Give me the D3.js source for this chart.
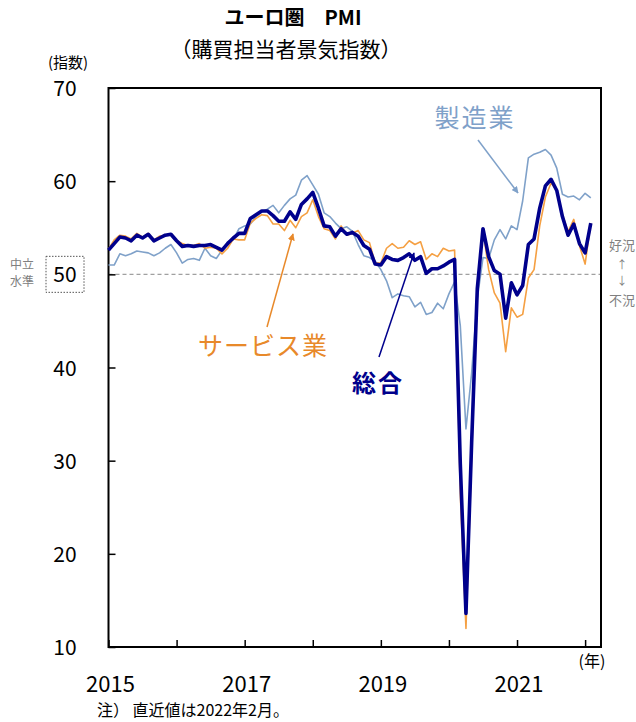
<!DOCTYPE html>
<html><head><meta charset="utf-8">
<script src="https://cdn.jsdelivr.net/npm/d3@7"></script>
<style>
html,body{margin:0;padding:0;background:#fff;}
svg{display:block;font-family:"Noto Sans CJK JP","Noto Sans",sans-serif;}
</style>
</head><body>
<svg id="c" width="636" height="722"></svg>
<script>
// Monthly data Jan 2015 - Feb 2022
const manufacturing = [
 51.0,51.0,52.2,52.0,52.2,52.5,52.4,52.3,52.0,52.3,52.8,53.2,
 52.3,51.2,51.6,51.7,51.5,52.8,52.0,51.7,52.6,53.5,53.7,54.9,
 55.2,55.4,56.2,56.7,57.0,57.4,56.6,57.4,58.1,58.5,60.1,60.6,
 59.6,58.6,56.6,56.2,55.5,54.9,55.1,54.6,53.2,52.0,51.8,51.4,
 50.5,49.3,47.5,47.9,47.7,47.6,46.5,47.0,45.7,45.9,46.9,46.3,
 47.9,49.2,44.5,33.4,39.4,47.4,51.8,51.7,53.7,54.8,53.8,55.2,
 54.8,57.9,62.5,62.9,63.1,63.4,62.8,61.4,58.6,58.3,58.4,58.0,
 58.7,58.2];
const services = [
 52.7,53.7,54.2,54.1,53.8,54.4,54.0,54.4,53.7,54.1,54.2,54.2,
 53.6,53.3,53.1,53.1,53.3,52.8,52.9,52.8,52.2,52.8,53.8,53.7,
 53.7,55.5,56.0,56.4,56.3,55.4,55.4,54.7,55.8,55.0,56.2,56.6,
 58.0,56.2,54.9,54.7,53.8,55.2,54.2,54.4,54.7,53.7,53.4,51.2,
 51.2,52.8,53.3,52.8,52.9,53.6,53.2,53.5,51.6,52.2,51.9,52.8,
 52.5,52.6,26.4,12.0,30.5,48.3,54.7,50.5,48.0,46.9,41.7,46.4,
 45.4,45.7,49.6,50.5,55.2,58.3,59.8,59.0,56.4,54.6,55.9,53.1,
 51.1,55.5];
const composite = [
 52.6,53.3,54.0,53.9,53.6,54.2,53.9,54.3,53.6,53.9,54.2,54.3,
 53.6,53.0,53.1,53.0,53.1,53.1,53.2,52.9,52.6,53.3,53.9,54.4,
 54.4,56.0,56.4,56.8,56.8,56.3,55.7,55.7,56.7,55.9,57.5,58.1,
 58.8,57.1,55.2,55.1,54.1,54.9,54.3,54.5,54.1,53.1,52.7,51.1,
 51.0,51.9,51.6,51.5,51.8,52.2,51.5,51.9,50.1,50.6,50.6,50.9,
 51.3,51.6,29.7,13.6,31.9,48.5,54.9,51.9,50.4,50.0,45.3,49.1,
 47.8,48.8,53.2,53.8,57.1,59.5,60.2,59.0,56.2,54.2,55.4,53.3,
 52.3,55.5];
const yTicks = [10,20,30,40,50,60,70];
const yearLabels = ["2015","2017","2019","2021"];
const yearTicks = [2015,2016,2017,2018,2019,2020,2021,2022];

const svg = d3.select("#c");
const L=108.5, R=601, T=88, B=647;
const x = d3.scaleLinear().domain([0,86.8]).range([L,R]);
const y = d3.scaleLinear().domain([10,70]).range([B,T]);
const mx = y0 => (y0-2015)*12;

// title
svg.append("text").attr("x",293).attr("y",25).attr("text-anchor","middle")
  .attr("font-size",20).attr("font-weight","bold").attr("fill","#000").text("ユーロ圏　PMI");
svg.append("text").attr("x",286).attr("y",57).attr("text-anchor","middle")
  .attr("font-size",21).attr("fill","#000").text("（購買担当者景気指数）");
svg.append("text").attr("x",68).attr("y",68).attr("text-anchor","middle")
  .attr("font-size",15).text("(指数)");

// 50 dashed line
svg.append("line").attr("x1",L).attr("x2",R).attr("y1",y(50)).attr("y2",y(50))
  .attr("stroke","#a0a0a0").attr("stroke-width",1.3).attr("stroke-dasharray","4,3");

// axes frame
svg.append("rect").attr("x",L).attr("y",T).attr("width",R-L).attr("height",B-T)
  .attr("fill","none").attr("stroke","#000").attr("stroke-width",2);

// y ticks (inward)
const yAxis = d3.axisRight(y).tickValues(yTicks).tickSize(7).tickFormat("");
svg.append("g").attr("transform",`translate(${L},0)`).call(yAxis)
  .call(g=>g.select(".domain").remove())
  .call(g=>g.selectAll("line").attr("stroke","#000").attr("stroke-width",1.5));
svg.selectAll(".ylab").data(yTicks).enter().append("text")
  .attr("x",65).attr("y",d=>y(d)+8).attr("text-anchor","middle")
  .attr("font-size",21).attr("fill","#000").text(d=>d);
// dotted box around 50
svg.append("rect").attr("x",46).attr("y",y(50)-18).attr("width",38).attr("height",36)
  .attr("fill","none").attr("stroke","#555").attr("stroke-width",1).attr("stroke-dasharray","1.5,1.5");
svg.append("text").attr("x",22).attr("y",y(50)-5).attr("text-anchor","middle")
  .attr("font-size",12).attr("fill","#808080").text("中立");
svg.append("text").attr("x",22).attr("y",y(50)+12).attr("text-anchor","middle")
  .attr("font-size",12).attr("fill","#808080").text("水準");

// x ticks (inward)
const xAxis = d3.axisTop(x).tickValues(yearTicks.map(mx)).tickSize(7).tickFormat("");
svg.append("g").attr("transform",`translate(0,${B})`).call(xAxis)
  .call(g=>g.select(".domain").remove())
  .call(g=>g.selectAll("line").attr("stroke","#000").attr("stroke-width",1.5));
svg.selectAll(".xlab").data(yearLabels).enter().append("text")
  .attr("x",d=>x(mx(+d))+2).attr("y",692).attr("text-anchor","middle")
  .attr("font-size",22).attr("fill","#000").text(d=>d);
svg.append("text").attr("x",592).attr("y",667).attr("text-anchor","middle")
  .attr("font-size",16).text("(年)");
svg.append("text").attr("x",97).attr("y",716)
  .attr("font-size",16).text("注）  直近値は2022年2月。");

// right side labels
const rg = svg.append("g").attr("fill","#808080").attr("text-anchor","middle");
rg.append("text").attr("x",622).attr("y",250).attr("font-size",13).text("好況");
rg.append("text").attr("x",622).attr("y",269).attr("font-size",11).text("↑");
rg.append("text").attr("x",622).attr("y",285).attr("font-size",11).text("↓");
rg.append("text").attr("x",622).attr("y",305).attr("font-size",13).text("不況");

// lines
const line = d3.line().x((d,i)=>x(i)).y(d=>y(d));
const g = svg.append("g").attr("fill","none").attr("stroke-linejoin","round");
g.append("path").datum(manufacturing).attr("d",line).attr("stroke","#7fa1c9").attr("stroke-width",1.6);
g.append("path").datum(services).attr("d",line).attr("stroke","#f5a043").attr("stroke-width",1.6);
g.append("path").datum(composite).attr("d",line).attr("stroke","#00008c").attr("stroke-width",3.6);

// annotations
const defs = svg.append("defs");
function marker(id,color){
  defs.append("marker").attr("id",id).attr("viewBox","0 0 10 10").attr("refX",9).attr("refY",5)
    .attr("markerWidth",7).attr("markerHeight",7).attr("orient","auto-start-reverse").attr("markerUnits","userSpaceOnUse")
    .append("path").attr("d","M0,0 L10,5 L0,10 z").attr("fill",color);
}
marker("mA","#7fa1c9"); marker("mB","#e8892a"); marker("mC","#00008c");
function arrow(x1,y1,x2,y2,c,m){
  svg.append("line").attr("x1",x1).attr("y1",y1).attr("x2",x2).attr("y2",y2)
    .attr("stroke",c).attr("stroke-width",1.5).attr("marker-end",`url(#${m})`);
}
svg.append("text").attr("x",475).attr("y",127).attr("text-anchor","middle")
  .attr("font-size",25).attr("letter-spacing",2).attr("fill","#7fa1c9").text("製造業");
arrow(478,140,518,193,"#7fa1c9","mA");
svg.append("text").attr("x",263).attr("y",355).attr("text-anchor","middle")
  .attr("font-size",25).attr("letter-spacing",1).attr("fill","#e8892a").text("サービス業");
arrow(267,327,293,234,"#e8892a","mB");
svg.append("text").attr("x",378).attr("y",392).attr("text-anchor","middle")
  .attr("font-size",24).attr("font-weight","bold").attr("letter-spacing",2).attr("fill","#00008c").text("総合");
arrow(379,357,414,253,"#00008c","mC");
</script>
</body></html>
